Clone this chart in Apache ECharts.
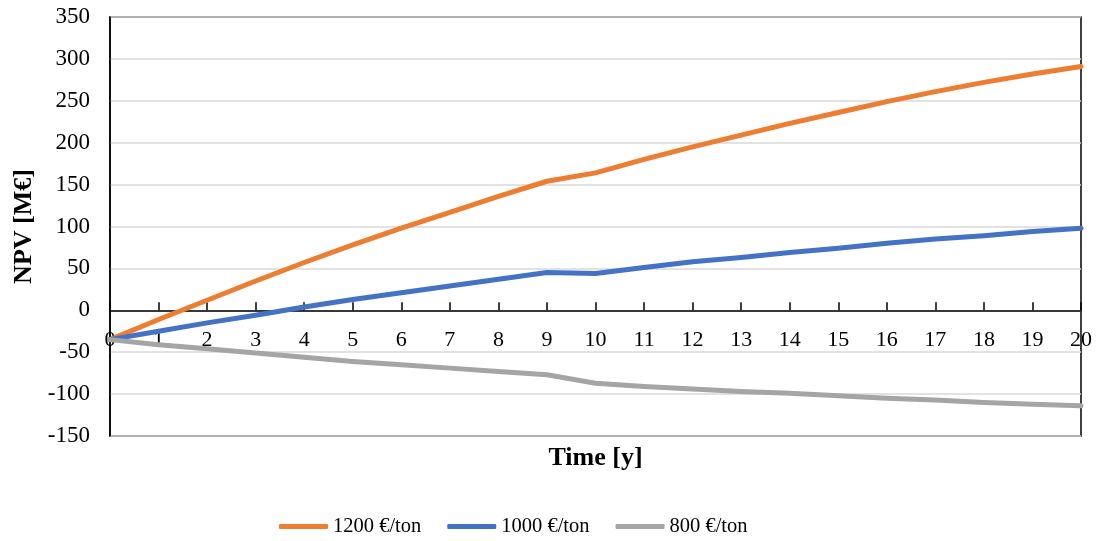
<!DOCTYPE html>
<html>
<head>
<meta charset="utf-8">
<script src="https://cdn.jsdelivr.net/npm/echarts@6/dist/echarts.min.js"></script>
<style>
  html, body { margin: 0; padding: 0; background: #fff; }
  #myChart { width: 1096px; height: 541px; }
</style>
</head>
<body>
<div id="myChart"></div>
<script>
// data
var years = ['0','1','2','3','4','5','6','7','8','9','10','11','12','13','14','15','16','17','18','19','20'];
var npv1200 = [-35, -11, 12, 35, 57, 78, 98, 117, 136, 154, 164, 180, 195, 209, 223, 236, 249, 261, 272, 282, 291];
var npv1000 = [-35, -25, -15, -6, 4, 13, 21, 29, 37, 45, 44, 51, 58, 63, 69, 74, 80, 85, 89, 94, 98];
var npv800 = [-35, -41, -46, -51, -56, -61, -65, -69, -73, -77, -87, -91, -94, -97, -99, -102, -105, -107, -110, -112, -114];
var seriesNames = ['1200 €/ton', '1000 €/ton', '800 €/ton'];
var colors = ['#ED7D31', '#4472C4', '#A5A5A5'];

var font = 'Liberation Serif';
var myChart = echarts.init(document.getElementById('myChart'));

function line(name, data, color) {
  return {
    name: name,
    type: 'line',
    data: data,
    showSymbol: false,
    symbol: 'none',
    lineStyle: { width: 5, color: color, cap: 'round', join: 'round' },
    itemStyle: { color: color },
    z: 3
  };
}

myChart.setOption({
  backgroundColor: '#fff',
  animation: false,
  grid: {
    left: 110,
    right: 15,
    top: 17,
    bottom: 105,
    containLabel: false,
    outerBoundsMode: 'none',
    show: true,
    borderColor: '#000',
    borderWidth: 1.5
  },
  legend: {
    data: seriesNames,
    top: 516,
    left: 279,
    padding: 0,
    icon: 'roundRect',
    itemWidth: 49,
    itemHeight: 5,
    itemGap: 26,
    textStyle: { fontFamily: font, fontSize: 20.5, color: '#000' }
  },
  xAxis: {
    type: 'category',
    data: years,
    boundaryGap: false,
    name: 'Time [y]',
    nameLocation: 'middle',
    nameGap: 9,
    nameTextStyle: { fontFamily: font, fontSize: 26, fontWeight: 'bold', color: '#000', verticalAlign: 'top' },
    axisLine: { onZero: true, lineStyle: { color: '#000', width: 1.5 } },
    axisTick: { show: true, inside: true, length: 8, alignWithLabel: true, lineStyle: { color: '#000', width: 1.5 } },
    axisLabel: { fontFamily: font, fontSize: 22, color: '#000', margin: -107, interval: 0 },
    splitLine: { show: false }
  },
  yAxis: {
    type: 'value',
    min: -150,
    max: 350,
    interval: 50,
    name: 'NPV [M€]',
    nameLocation: 'middle',
    nameGap: 73,
    nameTextStyle: { fontFamily: font, fontSize: 26, fontWeight: 'bold', color: '#000' },
    axisLine: { show: true, lineStyle: { color: '#000', width: 1.5 } },
    axisTick: { show: false },
    axisLabel: { fontFamily: font, fontSize: 23, color: '#000', margin: 20 },
    splitLine: { show: true, lineStyle: { color: '#d9d9d9', width: 1.5 } }
  },
  series: [
    line(seriesNames[0], npv1200, colors[0]),
    line(seriesNames[1], npv1000, colors[1]),
    line(seriesNames[2], npv800, colors[2])
  ]
});
</script>
</body>
</html>
